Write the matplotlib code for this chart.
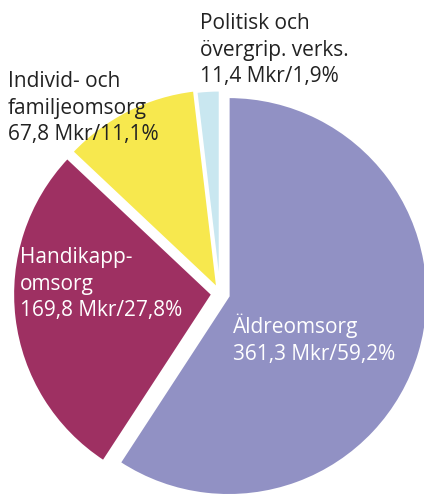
import matplotlib.pyplot as plt

# budget shares (Mkr), clockwise from the top
labels = ["Äldreomsorg", "Handikapp-\nomsorg", "Individ- och\nfamiljeomsorg", "Politisk och\növergrip. verks."]
values_mkr = [361.3, 169.8, 67.8, 11.4]
shares = ["59,2%", "27,8%", "11,1%", "1,9%"]
colors = ["#9191c4", "#9e3062", "#f7e84e", "#c9e7f0"]
explode = [0.045, 0.04, 0.03, 0.02]

# label placement in pixels (left, top) and text colour
label_pos = [(233, 314), (20, 247), (8, 71), (200, 13)]
label_colors = ["white", "white", "#222222", "#222222"]

W, H = 424, 497
PX = 199             # pie radius in pixels
CX, CY = 220, 293.5  # pie centre in pixels (from top-left)

plt.rcParams['font.family'] = ['Open Sans', 'DejaVu Sans']

fig = plt.figure(figsize=(W / 100, H / 100), dpi=100)
ax = fig.add_axes([0, 0, 1, 1])

ax.pie(values_mkr, colors=colors, explode=explode, startangle=90,
       counterclock=False, radius=1,
       wedgeprops=dict(edgecolor="white", linewidth=1.5))

ax.set_xlim(-CX / PX, (W - CX) / PX)
ax.set_ylim(-(H - CY) / PX, CY / PX)
ax.set_aspect("equal")
ax.axis("off")

for lab, v, s, (x, y), c in zip(labels, values_mkr, shares, label_pos, label_colors):
    amount = f"{v:.1f}".replace(".", ",")
    txt = f"{lab}\n{amount} Mkr/{s}"
    fig.text(x / W, 1 - y / H, txt, ha="left", va="top", fontsize=15,
             color=c, linespacing=1.35)

fig.savefig("out.png", dpi=100)
